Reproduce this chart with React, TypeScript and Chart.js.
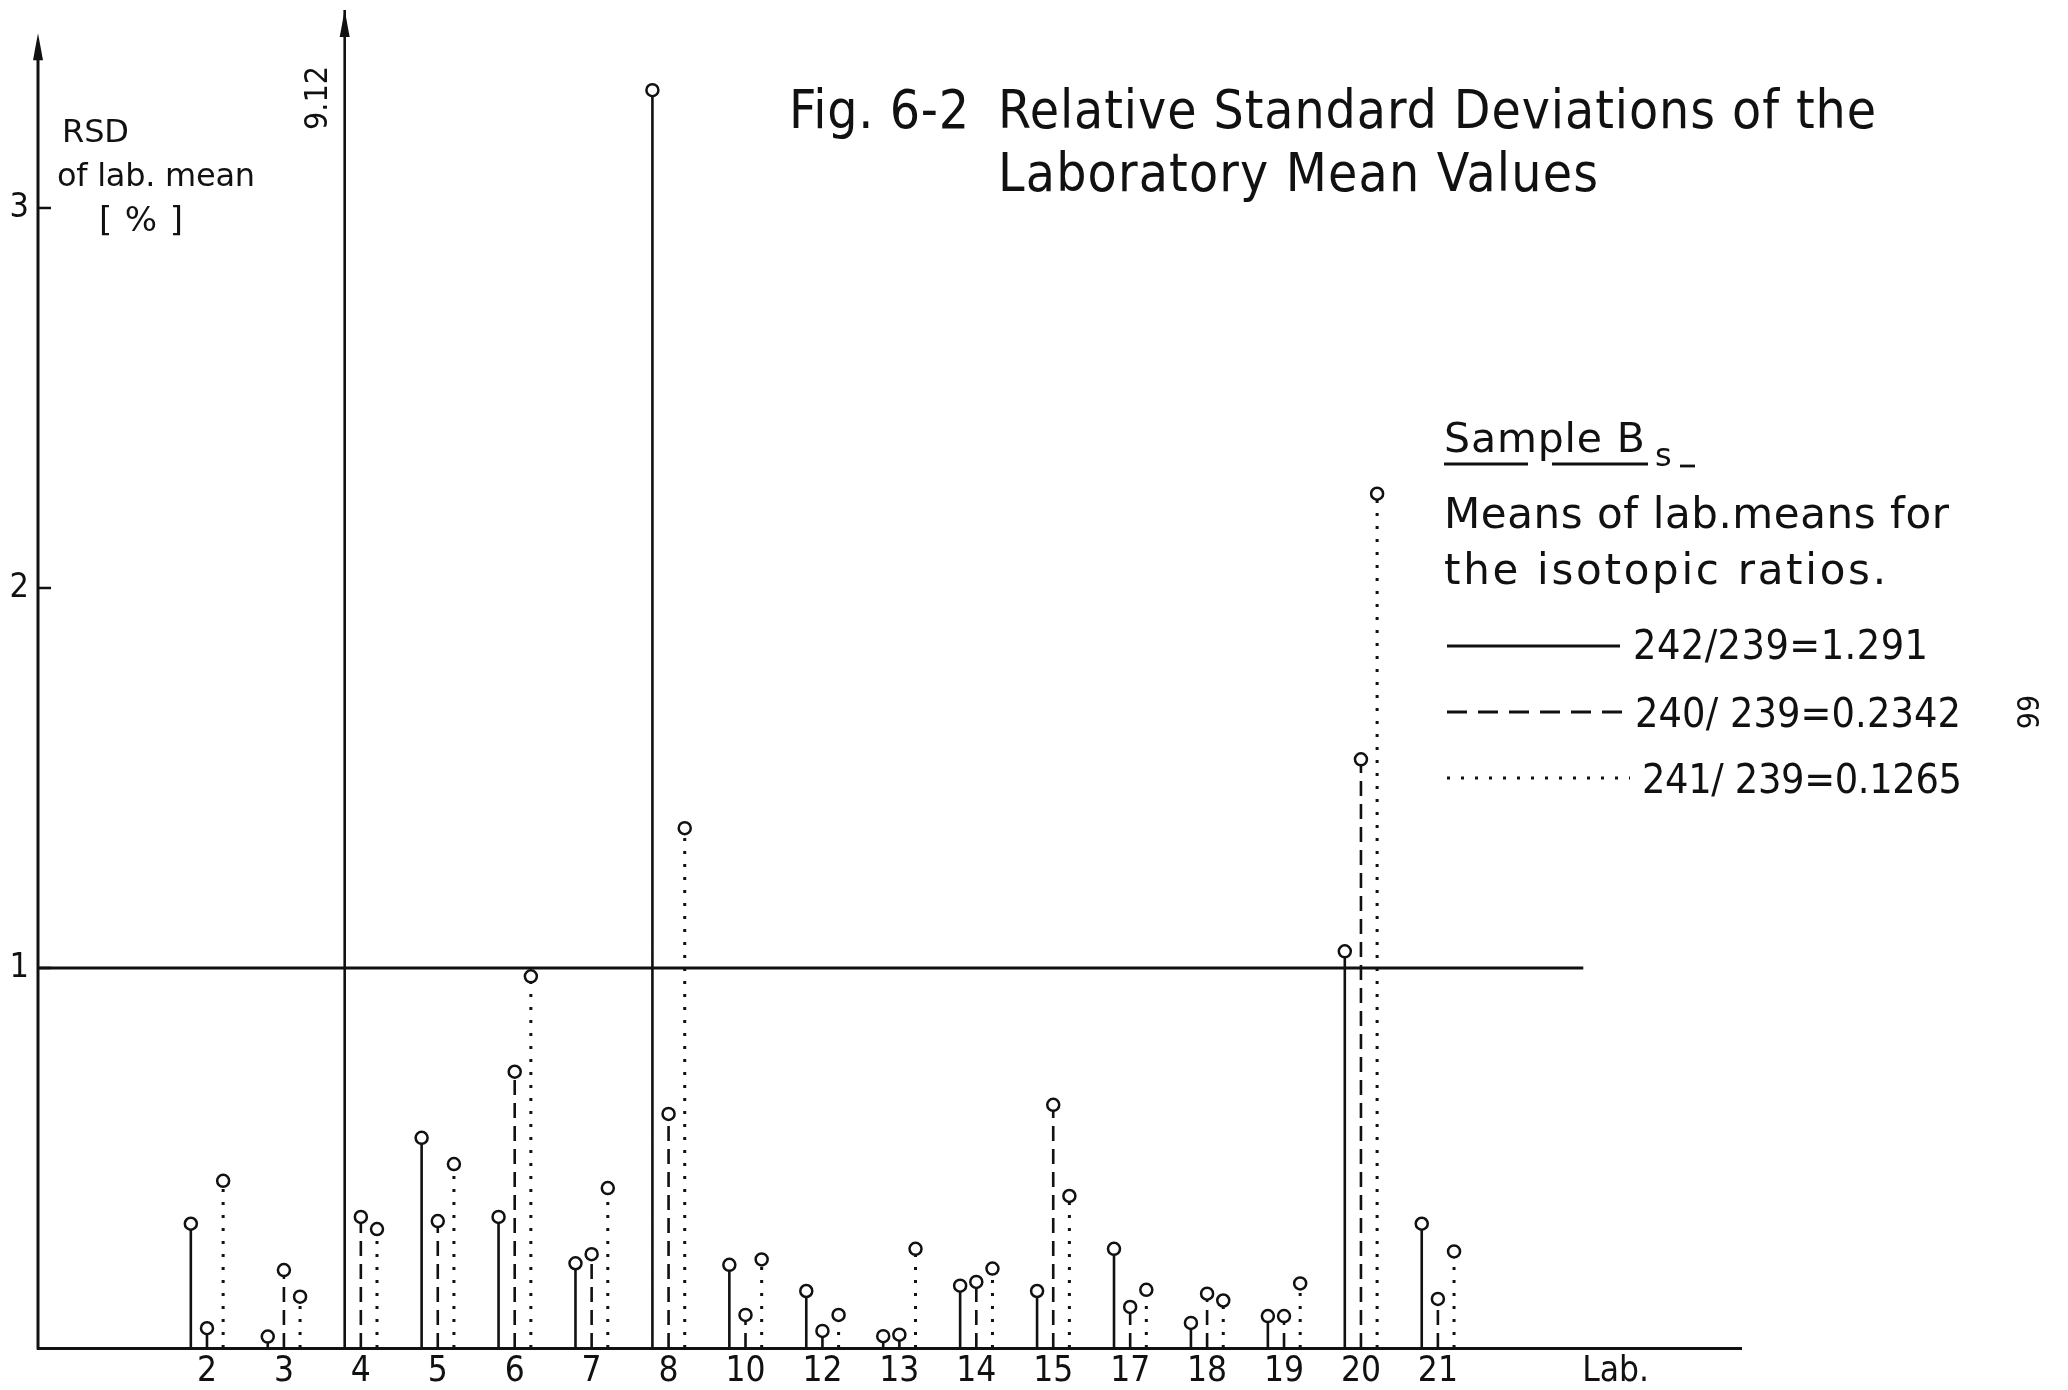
import React, { useEffect, useRef } from "react";
import { Chart, registerables } from "chart.js";

Chart.register(...registerables);

// Laboratories on the horizontal axis
const labs = ["2", "3", "4", "5", "6", "7", "8", "10", "12", "13", "14", "15", "17", "18", "19", "20", "21"];

// RSD of lab. mean [%] for each isotopic ratio
const rsd242 = [0.327, 0.03, 9.12, 0.553, 0.345, 0.223, 3.31, 0.219, 0.15, 0.031, 0.164, 0.15, 0.261, 0.066, 0.084, 1.044, 0.327];
const rsd240 = [0.052, 0.205, 0.345, 0.334, 0.727, 0.247, 0.616, 0.087, 0.045, 0.035, 0.174, 0.64, 0.108, 0.143, 0.084, 1.549, 0.129];
const rsd241 = [0.44, 0.135, 0.313, 0.484, 0.978, 0.421, 1.368, 0.233, 0.087, 0.261, 0.209, 0.4, 0.153, 0.125, 0.17, 2.248, 0.254];

const seriesLabels = ["242/239=1.291", "240/ 239=0.2342", "241/ 239=0.1265"];
const yTickValues = [1, 2, 3];
const referenceLevel = 1;

const INK = "#111";
const FONT = '"DejaVu Sans Condensed", "DejaVu Sans", sans-serif';
const FONT_WIDE = '"DejaVu Sans", sans-serif';

// scale geometry
const X_MIN = -1.1965;
const X_MAX = 20.94;
const LAB_AXIS_POS = 19.31;
const REF_END = 18.89;
const Y_MAX = 3.521;
const AXIS_TOP = 3.46;
const OFFSETS = [-0.21, 0, 0.21];

type Pt = { x: number; y: number | null };

function stems(values: number[], offset: number): Pt[] {
  const pts: Pt[] = [];
  values.forEach((v, i) => {
    const x = i + 1 + offset;
    pts.push({ x, y: 0 }, { x, y: v }, { x, y: null });
  });
  return pts;
}

const markerRadius = (c: any) => {
  const r = c.raw;
  return r && typeof r.y === "number" && r.y > 0 && r.y <= Y_MAX ? 6 : 0;
};

function stemDataset(label: string, values: number[], offset: number, dash: number[], width: number) {
  return {
    label,
    data: stems(values, offset),
    borderColor: INK,
    borderWidth: width,
    borderDash: dash,
    borderCapStyle: "butt" as const,
    pointRadius: markerRadius,
    pointHoverRadius: markerRadius,
    pointBackgroundColor: "#fff",
    pointBorderColor: INK,
    pointBorderWidth: 2.5,
    tension: 0,
    fill: false,
    spanGaps: false,
  };
}

function fitText(
  ctx: CanvasRenderingContext2D,
  text: string,
  x: number,
  y: number,
  width: number,
  size: number,
  family: string = FONT
) {
  ctx.font = `${size}px ${family}`;
  (ctx as any).letterSpacing = "0px";
  const w = ctx.measureText(text).width;
  const ls = text.length > 1 ? (width - w) / (text.length - 1) : 0;
  (ctx as any).letterSpacing = `${ls}px`;
  ctx.textAlign = "left";
  ctx.textBaseline = "alphabetic";
  ctx.fillText(text, x, y);
  (ctx as any).letterSpacing = "0px";
}

function seg(ctx: CanvasRenderingContext2D, x1: number, y1: number, x2: number, y2: number) {
  ctx.beginPath();
  ctx.moveTo(x1, y1);
  ctx.lineTo(x2, y2);
  ctx.stroke();
}

function arrowHead(ctx: CanvasRenderingContext2D, x: number, tipY: number) {
  ctx.beginPath();
  ctx.moveTo(x, tipY);
  ctx.lineTo(x - 5, tipY + 27);
  ctx.lineTo(x + 5, tipY + 27);
  ctx.closePath();
  ctx.fill();
}

const decorations = {
  id: "decorations",
  afterDraw(chart: any) {
    const ctx: CanvasRenderingContext2D = chart.ctx;
    const xs = chart.scales.x;
    const ys = chart.scales.y;
    const area = chart.chartArea;
    ctx.save();
    ctx.strokeStyle = INK;
    ctx.fillStyle = INK;
    ctx.lineCap = "butt";

    // vertical axis with arrow
    const ax = area.left;
    const yTop = ys.getPixelForValue(AXIS_TOP);
    ctx.lineWidth = 3;
    seg(ctx, ax, ys.getPixelForValue(0) + 1.5, ax, yTop + 20);
    arrowHead(ctx, ax, yTop);
    ctx.lineWidth = 2.5;
    yTickValues.forEach((v) => {
      const py = ys.getPixelForValue(v);
      seg(ctx, ax, py, ax + 13, py);
    });

    // values beyond the top of the scale: arrow and written value
    [rsd242, rsd240, rsd241].forEach((vals, s) => {
      vals.forEach((v, i) => {
        if (v > Y_MAX) {
          const px = xs.getPixelForValue(i + 1 + OFFSETS[s]);
          arrowHead(ctx, px, area.top);
          ctx.save();
          ctx.translate(px - 26, area.top + 88);
          ctx.rotate(-Math.PI / 2);
          ctx.font = `32px ${FONT}`;
          ctx.textAlign = "center";
          ctx.textBaseline = "middle";
          ctx.fillText(v.toFixed(2), 0, 0);
          ctx.restore();
        }
      });
    });

    // axis caption
    fitText(ctx, "RSD", 62, 142, 67, 32, FONT_WIDE);
    fitText(ctx, "of lab. mean", 57, 186, 198, 32, FONT_WIDE);
    fitText(ctx, "[%]", 99, 231, 84, 34, FONT_WIDE);

    // title
    fitText(ctx, "Fig. 6-2", 789, 128, 180, 53);
    fitText(ctx, "Relative Standard Deviations of the", 998, 128, 878, 53);
    fitText(ctx, "Laboratory Mean Values", 998, 191, 600, 53);

    // sample block
    fitText(ctx, "Sample B", 1444, 452, 201, 41, FONT_WIDE);
    fitText(ctx, "s", 1655, 466, 20, 32, FONT_WIDE);
    ctx.lineWidth = 2.8;
    seg(ctx, 1444, 464, 1528, 464);
    seg(ctx, 1552, 464, 1648, 464);
    seg(ctx, 1680, 466, 1695, 466);
    fitText(ctx, "Means of lab.means for", 1444, 528, 505, 42, FONT_WIDE);
    fitText(ctx, "the isotopic ratios.", 1444, 584, 442, 42, FONT_WIDE);

    // legend samples
    ctx.lineWidth = 2.8;
    seg(ctx, 1447, 646, 1620, 646);
    ctx.setLineDash([20, 11]);
    seg(ctx, 1447, 712, 1622, 712);
    ctx.setLineDash([3, 11]);
    seg(ctx, 1447, 778, 1630, 778);
    ctx.setLineDash([]);
    fitText(ctx, seriesLabels[0], 1633, 659, 295, 41);
    fitText(ctx, seriesLabels[1], 1635, 727, 326, 41);
    fitText(ctx, seriesLabels[2], 1642, 793, 320, 41);

    // page number
    ctx.save();
    ctx.translate(2031, 712);
    ctx.rotate(-Math.PI / 2);
    ctx.font = `30px ${FONT}`;
    ctx.textAlign = "center";
    ctx.textBaseline = "middle";
    ctx.fillText("99", 0, 0);
    ctx.restore();

    ctx.restore();
  },
};

export default function App() {
  const canvasRef = useRef<HTMLCanvasElement | null>(null);

  useEffect(() => {
    const canvas = canvasRef.current;
    if (!canvas) return;
    const chart = new Chart(canvas, {
      type: "line",
      data: {
        datasets: [
          {
            label: "reference",
            data: [
              { x: X_MIN, y: referenceLevel },
              { x: REF_END, y: referenceLevel },
            ],
            borderColor: INK,
            borderWidth: 3,
            pointRadius: 0,
            pointHoverRadius: 0,
            fill: false,
          } as any,
          stemDataset(seriesLabels[0], rsd242, OFFSETS[0], [], 2.6),
          stemDataset(seriesLabels[1], rsd240, OFFSETS[1], [15, 8], 2.6),
          stemDataset(seriesLabels[2], rsd241, OFFSETS[2], [3, 10], 3),
        ],
      },
      options: {
        responsive: false,
        animation: false,
        devicePixelRatio: 1,
        events: [],
        layout: { padding: { top: 10, right: 327, bottom: 0, left: 0 } },
        plugins: {
          legend: { display: false },
          tooltip: { enabled: false },
          title: { display: false },
        },
        scales: {
          x: {
            type: "linear",
            min: X_MIN,
            max: X_MAX,
            grid: { display: false, drawTicks: false },
            border: { display: true, color: INK, width: 3 },
            afterBuildTicks: (scale: any) => {
              scale.ticks = [...labs.map((_, i) => ({ value: i + 1 })), { value: LAB_AXIS_POS }];
            },
            afterFit: (scale: any) => {
              scale.height = 42;
              scale.paddingLeft = 0;
              scale.paddingRight = 0;
            },
            ticks: {
              autoSkip: false,
              maxRotation: 0,
              minRotation: 0,
              padding: 3,
              color: INK,
              font: { family: FONT, size: 35 },
              callback: (_v: any, index: number) => (index < labs.length ? labs[index] : "Lab."),
            },
          },
          y: {
            type: "linear",
            min: 0,
            max: Y_MAX,
            grid: { display: false, drawTicks: false },
            border: { display: false },
            afterBuildTicks: (scale: any) => {
              scale.ticks = yTickValues.map((v) => ({ value: v }));
            },
            afterFit: (scale: any) => {
              scale.width = 38;
              scale.paddingTop = 0;
              scale.paddingBottom = 0;
            },
            ticks: {
              padding: 9,
              color: INK,
              font: { family: FONT, size: 34 },
              callback: (v: any) => String(v),
            },
          },
        },
      } as any,
      plugins: [decorations],
    });
    return () => chart.destroy();
  }, []);

  return (
    <div style={{ position: "fixed", left: 0, top: 0, width: 2068, height: 1390, background: "#fff" }}>
      <canvas ref={canvasRef} width={2068} height={1390} style={{ display: "block" }} />
    </div>
  );
}
